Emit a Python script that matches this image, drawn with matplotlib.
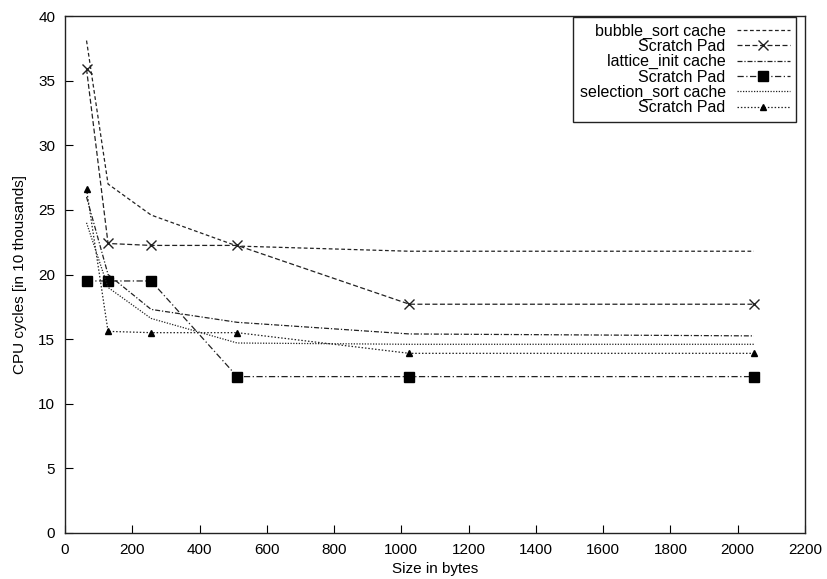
import matplotlib
matplotlib.use("Agg")
import matplotlib.pyplot as plt

plt.rcParams['font.family'] = ['Liberation Sans', 'DejaVu Sans']

sizes = [64, 128, 256, 512, 1024, 2048]
bubble_cache = [38.1, 27.0, 24.6, 22.2, 21.8, 21.8]
bubble_spm = [35.9, 22.4, 22.25, 22.25, 17.7, 17.7]
lattice_cache = [26.0, 20.0, 17.3, 16.3, 15.4, 15.25]
lattice_spm = [19.5, 19.5, 19.5, 12.1, 12.1, 12.1]
selection_cache = [24.0, 19.0, 16.6, 14.7, 14.6, 14.6]
selection_spm = [26.6, 15.6, 15.5, 15.5, 13.9, 13.9]

labels = ["bubble_sort cache", "Scratch Pad", "lattice_init cache",
          "Scratch Pad", "selection_sort cache", "Scratch Pad"]

xticks = list(range(0, 2201, 200))
yticks = list(range(0, 41, 5))

fig = plt.figure(figsize=(8.27, 5.79), dpi=100)
ax = fig.add_axes([65/827, 1-533/579, (805-65)/827, (533-16)/579])

col = '#222222'
lw = 0.9
ax.plot(sizes, bubble_cache, color=col, lw=lw, ls=(0, (3, 2)), label=labels[0])
ax.plot(sizes, bubble_spm, color=col, lw=lw, ls=(0, (4, 2)), marker='x',
        ms=7, mew=1.0, label=labels[1])
ax.plot(sizes, lattice_cache, color=col, lw=lw, ls=(0, (4, 1.5, 1, 1.5)), label=labels[2])
ax.plot(sizes, lattice_spm, color=col, lw=lw, ls=(0, (5, 2, 1, 2)), marker='s',
        ms=7, mfc='black', mec='black', label=labels[3])
ax.plot(sizes, selection_cache, color=col, lw=lw, ls=(0, (1, 1.2)), label=labels[4])
ax.plot(sizes, selection_spm, color=col, lw=lw, ls=(0, (1.2, 1.5)), marker='^',
        ms=5, mfc='black', mec='black', label=labels[5])

ax.set_xlim(0, 2200)
ax.set_ylim(0, 40)
ax.set_xticks(xticks)
ax.set_yticks(yticks)
ax.tick_params(direction='in', length=6, width=0.8, labelsize=11, pad=7,
               top=False, right=False)
for s in ax.spines.values():
    s.set_linewidth(1.0)
    s.set_color('#222222')
ax.set_xlabel("Size in bytes", fontsize=11, labelpad=4)
ax.set_ylabel("CPU cycles [in 10 thousands]", fontsize=11, labelpad=8)

leg = ax.legend(loc='upper right', markerfirst=False, fontsize=11.5,
                bbox_to_anchor=(796/827, 1-17/579), bbox_transform=fig.transFigure,
                frameon=True, fancybox=False, edgecolor='#222222',
                framealpha=1, borderaxespad=0.0, borderpad=0.4,
                labelspacing=0.02, handlelength=3.3, handletextpad=0.7)
leg.get_frame().set_linewidth(1.0)

fig.savefig("out.png", dpi=100)
